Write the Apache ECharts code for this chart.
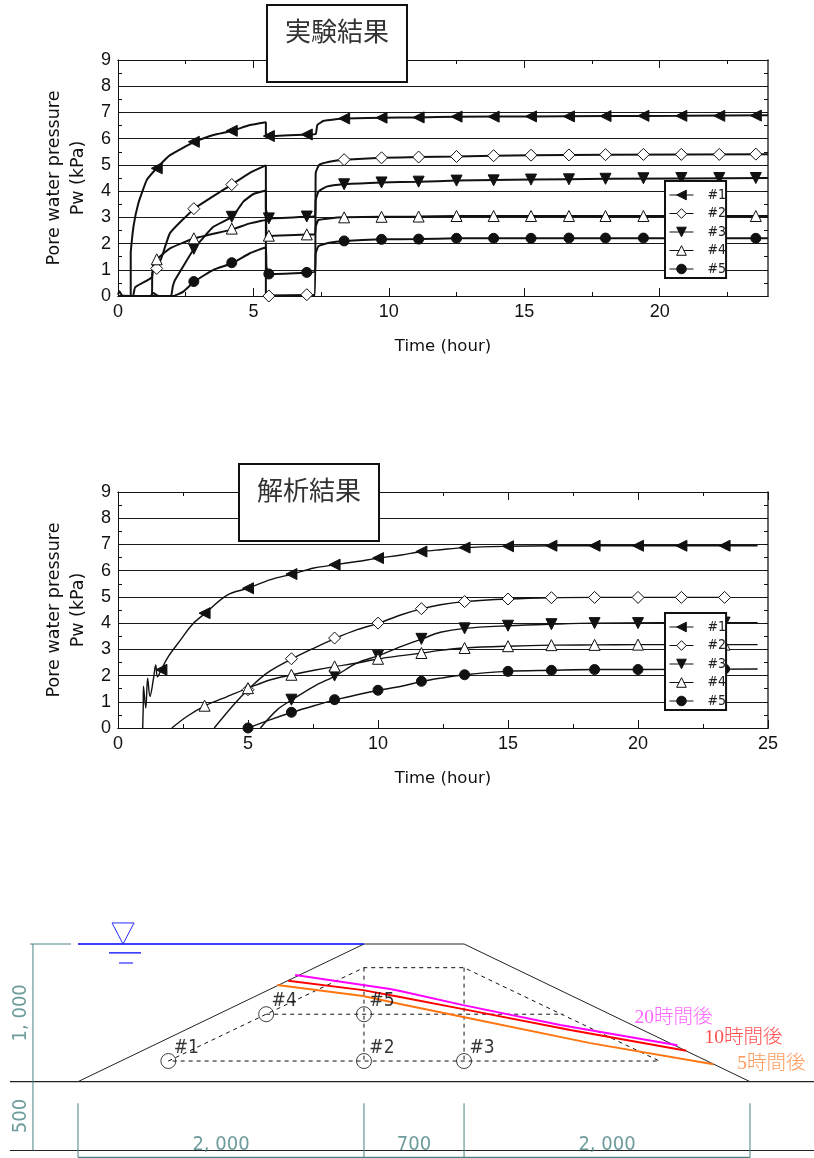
<!DOCTYPE html>
<html><head><meta charset="utf-8">
<script src="https://cdn.jsdelivr.net/npm/echarts@6/dist/echarts.min.js"></script>
<style>html,body{margin:0;padding:0;background:#fff}#c{width:814px;height:1158px}</style>
</head><body><div id="c"></div>
<script>
// ---------- Experiment chart ----------
const expMajorTicks = [0,5,10,15,20];
const expMinorTicks = [2.5,7.5,12.5,17.5,22.5];
const expMarkTimes = [1.43,2.8,4.2,5.57,6.97,8.35,9.73,11.1,12.5,13.87,15.25,16.65,18,19.4,20.8,22.2,23.55];
const expMark1 = [4.87,5.88,6.3,6.1,6.16,6.77,6.8,6.81,6.84,6.84,6.85,6.85,6.86,6.87,6.87,6.87,6.88];
const expMark2 = [1.05,3.33,4.25,0,0.05,5.2,5.27,5.3,5.32,5.35,5.37,5.38,5.39,5.4,5.4,5.4,5.41];
const expMark3 = [null,1.8,3.02,2.96,3.03,4.26,4.33,4.36,4.4,4.41,4.44,4.45,4.47,4.49,4.5,4.5,4.5];
const expMark4 = [1.4,2.2,2.57,2.3,2.35,3.0,3.02,3.03,3.05,3.05,3.05,3.05,3.05,3.05,3.05,3.05,3.05];
const expMark5 = [null,0.55,1.27,0.84,0.9,2.1,2.16,2.17,2.2,2.2,2.2,2.21,2.21,2.21,2.2,2.2,2.2];
const expLine1 = [[0,0.05],[0.05,0.18],[0.15,0.02],[0.47,0],[0.47,1.63],[0.57,2.64],[0.75,3.53],[1.06,4.42],[1.43,4.87],[1.92,5.37],[2.82,5.88],[3.52,6.14],[4.22,6.3],[4.87,6.52],[5.46,6.63],[5.46,6.1],[5.57,6.1],[6.97,6.16],[7.3,6.18],[7.36,6.52],[7.6,6.68],[8.35,6.77],[9.73,6.8],[11.1,6.81],[12.5,6.84],[15.25,6.85],[18,6.86],[20.8,6.87],[24,6.89]];
const expLine2 = [[0,0],[1.25,0],[1.27,0.9],[1.43,1.05],[1.62,1.5],[1.92,2.4],[2.82,3.33],[4.2,4.25],[4.87,4.7],[5.46,4.98],[5.46,0],[5.57,0.02],[6.97,0.04],[7.27,0.04],[7.3,4.7],[7.43,5.0],[7.8,5.12],[8.35,5.2],[9.73,5.27],[11.1,5.3],[12.5,5.32],[15.25,5.37],[18,5.39],[24,5.41]];
const expLine3 = [[0,0],[1.95,0],[2.02,0.35],[2.1,0.6],[2.82,1.82],[3.52,2.64],[4.22,3.02],[4.63,3.6],[5.0,3.89],[5.46,4.02],[5.46,3.34],[5.57,2.96],[6.97,3.02],[7.27,3.05],[7.3,3.66],[7.4,3.98],[7.7,4.17],[8.35,4.26],[9.73,4.33],[11.1,4.36],[12.5,4.4],[15.25,4.44],[18,4.47],[24,4.5]];
const expLine4 = [[0,0],[0.55,0],[0.63,0.33],[1.25,0.71],[1.3,1.25],[1.43,1.4],[1.92,1.82],[2.82,2.2],[4.22,2.54],[4.87,2.77],[5.46,2.9],[5.48,2.39],[5.57,2.29],[6.97,2.35],[7.27,2.35],[7.3,2.64],[7.4,2.9],[7.8,2.96],[8.35,3.0],[9.73,3.02],[11.1,3.03],[12.5,3.05],[24,3.05]];
const expLine5 = [[0,0],[1.2,0],[1.3,0.12],[1.5,0],[2.05,0],[2.4,0.16],[2.82,0.55],[3.52,1.0],[4.22,1.25],[4.87,1.63],[5.46,1.86],[5.48,1.12],[5.57,0.84],[6.97,0.89],[7.27,0.93],[7.3,1.63],[7.4,1.9],[7.8,2.03],[8.35,2.1],[9.73,2.16],[11.1,2.17],[12.5,2.2],[24,2.2]];

// ---------- Analysis chart ----------
const anaMajorTicks = [0,5,10,15,20,25];
const anaMinorTicks = [2.5,7.5,12.5,17.5,22.5];
const anaMarkTimes = [1.67,3.33,5,6.67,8.33,10,11.67,13.33,15,16.67,18.33,20,21.67,23.33];
const anaMark1 = [2.22,4.38,5.33,5.87,6.23,6.48,6.73,6.88,6.93,6.95,6.95,6.95,6.95,6.95];
const anaMark2 = [null,null,1.46,2.64,3.43,4.0,4.55,4.82,4.92,4.97,4.98,4.98,4.98,4.98];
const anaMark3 = [null,null,null,1.08,2.0,2.76,3.4,3.8,3.9,3.96,4.0,4.0,4.02,4.02];
const anaMark4 = [null,0.85,1.52,2.03,2.35,2.64,2.86,3.05,3.12,3.16,3.17,3.18,3.18,3.18];
const anaMark5 = [null,null,0,0.6,1.08,1.44,1.78,2.03,2.16,2.2,2.23,2.23,2.25,2.25];
const anaLine1 = [[0.95,0],[0.97,0.8],[0.98,1.59],[1.07,0.76],[1.14,1.9],[1.23,1.2],[1.36,1.85],[1.45,2.4],[1.52,1.95],[1.66,2.22],[1.94,2.73],[2.4,3.35],[2.85,3.94],[3.36,4.38],[4.2,5.07],[5,5.33],[5.87,5.66],[6.7,5.87],[7.54,6.1],[8.38,6.23],[9.2,6.35],[10.03,6.48],[10.9,6.6],[11.7,6.73],[12.4,6.8],[13.33,6.88],[15,6.93],[16.67,6.95],[20,6.95],[24.6,6.95]];
const anaLine2 = [[3.7,0],[4.45,0.89],[5,1.46],[5.74,2.1],[6.7,2.64],[7.54,3.05],[8.38,3.43],[9.2,3.75],[10.03,4.0],[10.9,4.32],[11.7,4.55],[12.4,4.7],[13.33,4.82],[15,4.92],[16.67,4.97],[18.33,4.98],[23.33,4.98]];
const anaLine3 = [[5.48,0],[6.13,0.7],[6.7,1.08],[7.54,1.59],[8.38,2.0],[9.2,2.48],[10.03,2.76],[10.9,3.11],[11.7,3.4],[12.4,3.65],[13.33,3.8],[15,3.9],[16.67,3.96],[18.33,4.0],[24.6,4.02]];
const anaLine4 = [[2.07,0],[2.65,0.44],[3.36,0.85],[4.2,1.2],[5,1.52],[5.87,1.84],[6.7,2.03],[7.54,2.2],[8.38,2.35],[9.2,2.48],[10.03,2.64],[10.9,2.76],[11.7,2.86],[12.4,2.96],[13.33,3.05],[15,3.12],[16.67,3.16],[18.33,3.17],[20,3.18],[24.6,3.18]];
const anaLine5 = [[5,0],[5.87,0.32],[6.7,0.6],[7.54,0.85],[8.38,1.08],[9.2,1.27],[10.03,1.44],[10.9,1.59],[11.7,1.78],[12.4,1.9],[13.33,2.03],[15,2.16],[16.67,2.2],[18.33,2.23],[20,2.23],[24.6,2.25]];

const seriesNames = ['#1','#2','#3','#4','#5'];
const yTicks = [0,1,2,3,4,5,6,7,8,9];

// ---------- Cross-section (millimetres) ----------
const ground = [[-476,0],[5147,0]];
const baseLine = [[-476,-500],[5147,-500]];
const embankment = [[0,0],[2000,1000],[2700,1000],[4700,0]];
const waterLine = [[0,1000],[2000,1000]];
const waterMark = [[238,1153],[392,1153],[315,1000],[238,1153]];
const waterBar1 = [[217,935],[441,935]];
const waterBar2 = [[287,862],[385,862]];
const drainOutline = [[632,150],[1316,490],[2000,828],[2700,828],[4066,150],[632,150]];
const drainRow = [[1316,490],[3394,490]];
const drainCol1 = [[2000,828],[2000,150]];
const drainCol2 = [[2700,828],[2700,150]];
const level20h = [[1519,775],[2183,673],[2253,658],[2694,556],[3373,411],[4192,265]];
const level10h = [[1470,733],[1994,665],[2253,615],[2694,527],[3443,375],[4255,224]];
const level5h = [[1393,702],[1994,622],[2253,564],[2694,469],[3583,280],[4444,127]];
const dimVert = [[-315,1000],[-315,-500]];
const dimTop = [[-336,1000],[-49,1000]];
const dimBottom = [[0,-550],[4700,-550]];
const dimStops = [0,2000,2700,4700];
const sensors = [['#1',632,150],['#2',2000,150],['#3',2700,150],['#4',1316,490],['#5',2000,490]];
const dimLabels = [['2, 000',1000,-460],['700',2350,-460],['2, 000',3700,-460]];
const dimLabelsV = [['1, 000',-400,500],['500',-400,-250]];
const levelLabels = [['20時間後',4165,463,'#ff3cff'],['10時間後',4655,318,'#ff2020'],['5時間後',4850,128,'#ff8030']];

const BK = '#111';
const LBL = 'DejaVu Sans';
const TICKF = '"Liberation Sans",sans-serif';
const NARROW = '"DejaVu Sans Condensed","Liberation Sans Narrow","Liberation Sans",sans-serif';
const JP = '"Noto Sans CJK JP",sans-serif';

const styles = [
  {symbol:'triangle',rot:90,fill:BK},
  {symbol:'diamond',rot:0,fill:'#fff'},
  {symbol:'triangle',rot:180,fill:BK},
  {symbol:'triangle',rot:0,fill:'#fff'},
  {symbol:'circle',rot:0,fill:BK}
];

const grids = [
  {left:118,top:60,width:650,height:236},
  {left:118,top:492,width:650,height:236},
  {left:0,top:916.47,width:814,height:241.53}
];

const xAxes = [], yAxes = [];
function addAxes(gridIndex,xMax,major,minor){
  const base = {type:'value',gridIndex,min:0,max:xMax,splitLine:{show:false},
    axisLine:{show:true,onZero:false,lineStyle:{color:BK,width:1}}};
  const xStart = xAxes.length;
  xAxes.push(Object.assign({},base,{position:'bottom',interval:5,name:'Time (hour)',nameLocation:'middle',nameGap:42,
    nameTextStyle:{fontFamily:LBL,fontSize:16.5,color:'#111'},
    axisTick:{show:true,inside:true,length:8,customValues:major,lineStyle:{color:BK}},
    axisLabel:{show:true,customValues:major,margin:7,fontFamily:TICKF,fontSize:18,color:'#111'}}));
  xAxes.push(Object.assign({},base,{position:'bottom',interval:2.5,axisTick:{show:true,inside:true,length:4,customValues:minor,lineStyle:{color:BK}},axisLabel:{show:false}}));
  xAxes.push(Object.assign({},base,{position:'top',interval:5,axisTick:{show:true,inside:true,length:8,customValues:major,lineStyle:{color:BK}},axisLabel:{show:false}}));
  xAxes.push(Object.assign({},base,{position:'top',interval:2.5,axisTick:{show:true,inside:true,length:4,customValues:minor,lineStyle:{color:BK}},axisLabel:{show:false}}));
  const yStart = yAxes.length;
  const yBase = {type:'value',gridIndex,min:0,max:9,interval:1,
    axisLine:{show:true,onZero:false,lineStyle:{color:BK,width:1}},
    axisTick:{show:true,inside:true,length:4,lineStyle:{color:BK}},
    minorTick:{show:true,splitNumber:2,length:4,lineStyle:{color:BK}}};
  yAxes.push(Object.assign({},yBase,{position:'left',
    name:'Pore water pressure\nPw (kPa)',nameLocation:'middle',nameGap:28,nameRotate:90,
    nameTextStyle:{fontFamily:LBL,fontSize:17.5,lineHeight:24,color:'#111'},
    splitLine:{show:true,lineStyle:{color:'#1a1a1a',width:1}},
    axisLabel:{show:true,margin:7,fontFamily:TICKF,fontSize:18,color:'#111',customValues:yTicks}}));
  yAxes.push(Object.assign({},yBase,{position:'right',splitLine:{show:false},
    axisLine:{show:true,onZero:false,lineStyle:{color:'#333',width:1.5}},axisLabel:{show:false}}));
  return {x:xStart,y:yStart};
}
const a0 = addAxes(0,24,expMajorTicks,expMinorTicks);
const a1 = addAxes(1,25,anaMajorTicks,anaMinorTicks);
// Cross-section axes, hidden: millimetres map through the grid
xAxes.push({type:'value',gridIndex:2,min:-545.5,max:5147.5,show:false});
yAxes.push({type:'value',gridIndex:2,min:-554.5,max:1200,show:false});
const dx = xAxes.length-1, dy = yAxes.length-1;

const series = [];
function addChart(ax,lines,markTimes,marks,lw,sm){
  lines.forEach((d,i)=>{
    const s = styles[i];
    series.push({type:'line',name:seriesNames[i],xAxisIndex:ax.x,yAxisIndex:ax.y,data:d,
      showSymbol:false,symbol:s.symbol,symbolRotate:s.rot,symbolSize:11,z:3,silent:true,
      smooth:sm,
      lineStyle:{color:BK,width:lw},
      itemStyle:{color:s.fill,borderColor:BK,borderWidth:1},
      clip:false,animation:false});
  });
  marks.forEach((m,i)=>{
    const s = styles[i];
    const pts = [];
    m.forEach((v,k)=>{ if(v!==null) pts.push([markTimes[k],v]); });
    series.push({type:'scatter',name:seriesNames[i],xAxisIndex:ax.x,yAxisIndex:ax.y,data:pts,
      symbol:s.symbol,symbolRotate:s.rot,symbolSize:s.symbol==='circle'?10:(s.symbol==='diamond'?12:11),z:4,silent:true,
      itemStyle:{color:s.fill,borderColor:BK,borderWidth:1,opacity:1},clip:false,animation:false});
  });
}
addChart(a0,[expLine1,expLine2,expLine3,expLine4,expLine5],expMarkTimes,[expMark1,expMark2,expMark3,expMark4,expMark5],2,0.12);
addChart(a1,[anaLine1,anaLine2,anaLine3,anaLine4,anaLine5],anaMarkTimes,[anaMark1,anaMark2,anaMark3,anaMark4,anaMark5],1.4,0.35);

function drawLine(d,color,width,type){
  series.push({type:'line',xAxisIndex:dx,yAxisIndex:dy,data:d,showSymbol:false,symbol:'none',clip:false,silent:true,
    lineStyle:{color,width,type:type||'solid'},animation:false,z:3});
}
const TEAL = '#4a8282';
drawLine(ground,'#222',1.2);
drawLine(baseLine,'#222',1.2);
drawLine(embankment,'#222',1);
drawLine(waterLine,'#0000ff',1.4);
drawLine(waterMark,'#2a2aff',1);
drawLine(waterBar1,'#0000ff',1.2);
drawLine(waterBar2,'#0000ff',1.2);
[drainOutline,drainRow,drainCol1,drainCol2].forEach(d=>drawLine(d,'#111',1,[4,4]));
drawLine(level5h,'#ff7510',2);
drawLine(level10h,'#ff0000',2);
drawLine(level20h,'#ff00ff',2);
drawLine(dimVert,TEAL,1);
drawLine(dimTop,TEAL,1);
drawLine(dimBottom,TEAL,1.2);
dimStops.forEach(x=>drawLine([[x,-157],[x,-550]],TEAL,1));

const invisibleDot = {symbol:'circle',symbolSize:1,itemStyle:{color:'rgba(255,255,255,0)'}};
series.push({type:'scatter',xAxisIndex:dx,yAxisIndex:dy,clip:false,silent:true,z:5,animation:false,
  data:sensors.map(s=>({value:[s[1],s[2]],name:s[0]})),symbol:'circle',symbolSize:15,
  itemStyle:{color:'rgba(255,255,255,0)',borderColor:BK,borderWidth:1},
  label:{show:true,position:'inside',offset:[18,-13],formatter:p=>p.name,fontFamily:NARROW,fontSize:19,color:'#000'}});
series.push(Object.assign({type:'scatter',xAxisIndex:dx,yAxisIndex:dy,clip:false,silent:true,z:5,animation:false,
  data:dimLabels.map(s=>({value:[s[1],s[2]],name:s[0]})),
  label:{show:true,position:'inside',formatter:p=>p.name,fontFamily:NARROW,fontSize:20,color:TEAL}},invisibleDot));
series.push(Object.assign({type:'scatter',xAxisIndex:dx,yAxisIndex:dy,clip:false,silent:true,z:5,animation:false,
  data:dimLabelsV.map(s=>({value:[s[1],s[2]],name:s[0]})),
  label:{show:true,position:'inside',rotate:90,formatter:p=>p.name,fontFamily:NARROW,fontSize:20,color:TEAL}},invisibleDot));
series.push(Object.assign({type:'scatter',xAxisIndex:dx,yAxisIndex:dy,clip:false,silent:true,z:5,animation:false,
  data:levelLabels.map(s=>({value:[s[1],s[2]],name:s[0],label:{color:s[3]}})),
  label:{show:true,position:'inside',formatter:p=>p.name,fontFamily:'"Liberation Serif","Noto Sans CJK JP",serif',fontSize:19.5,fontWeight:300}},invisibleDot));

function boxTitle(text,left,top){
  return {text,left,top,padding:[11,18,36,18],backgroundColor:'#fff',borderColor:BK,borderWidth:2,z:8,
    textStyle:{fontFamily:JP,fontWeight:400,fontSize:26,color:'#333',lineHeight:30}};
}
function legendAt(left,top){
  return {orient:'vertical',left,top,data:seriesNames,selectedMode:false,
    padding:[7,0,2,4],itemWidth:24,itemHeight:12,itemGap:4.5,backgroundColor:'#fff',borderColor:BK,borderWidth:2,z:8,
    lineStyle:{width:1},itemStyle:{borderWidth:1},
    textStyle:{fontFamily:NARROW,fontSize:14,color:'#222',padding:[0,0,0,9]}};
}

const chart = echarts.init(document.getElementById('c'),null,{renderer:'canvas'});
chart.setOption({
  animation:false,backgroundColor:'#fff',
  title:[boxTitle('実験結果',267,5),boxTitle('解析結果',239,464)],
  legend:[legendAt(665,181),legendAt(665,613)],
  grid:grids,xAxis:xAxes,yAxis:yAxes,series
});
</script></body></html>
